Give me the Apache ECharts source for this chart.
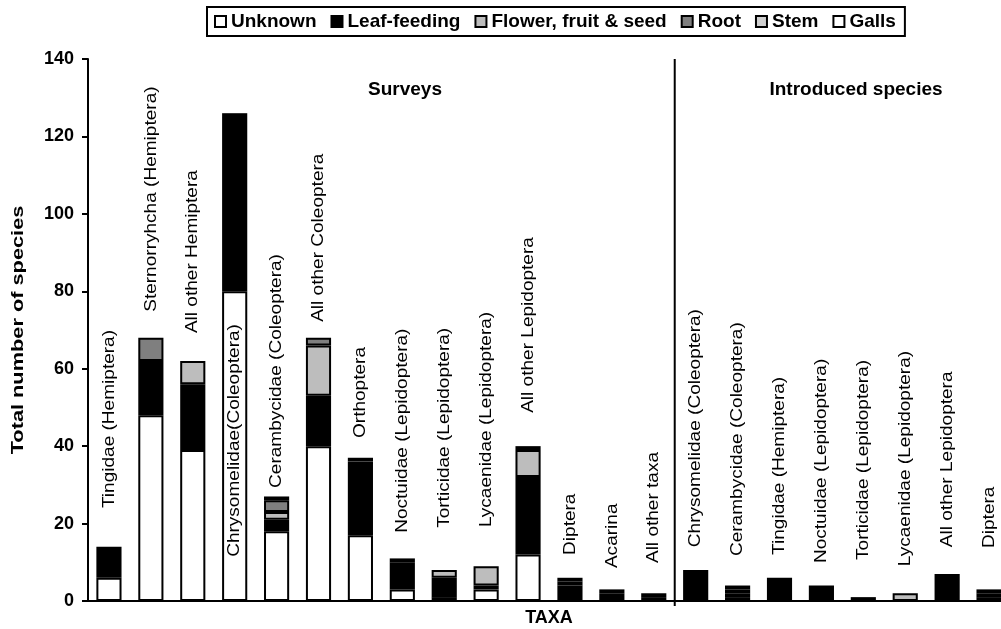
<!DOCTYPE html>
<html>
<head>
<meta charset="utf-8">
<script src="https://cdn.jsdelivr.net/npm/echarts@6/dist/echarts.min.js"></script>
<style>
  html, body { margin: 0; padding: 0; background: #fff; }
  #chart { width: 1001px; height: 629px; }
</style>
</head>
<body>
<div id="chart"></div>
<script>
// Taxa: 14 survey groups followed by 8 introduced-species groups
const taxa = [
  'Tingidae (Hemiptera)', 'Sternorryhcha (Hemiptera)', 'All other Hemiptera',
  'Chrysomelidae(Coleoptera)', 'Cerambycidae (Coleoptera)', 'All other Coleoptera',
  'Orthoptera', 'Noctuidae (Lepidoptera)', 'Torticidae (Lepidoptera)',
  'Lycaenidae (Lepidoptera)', 'All other Lepidoptera', 'Diptera', 'Acarina',
  'All other taxa',
  'Chrysomelidae (Coleoptera)', 'Cerambycidae (Coleoptera)', 'Tingidae (Hemiptera)',
  'Noctuidae (Lepidoptera)', 'Torticidae (Lepidoptera)', 'Lycaenidae (Lepidoptera)',
  'All other Lepidoptera', 'Diptera'
];

// Number of species by feeding guild
const unknown         = [6, 48, 39, 80, 18, 40, 17, 3, 1, 3, 12, 0, 0, 0,   0, 0, 0, 0, 0, 0, 0, 0];
const leafFeeding     = [8, 14, 17, 45, 3, 13, 19, 7, 5, 1, 20, 4, 2, 1,    8, 0, 6, 4, 1, 0, 7, 0];
const flowerFruitSeed = [0, 0, 6, 1, 2, 13, 1, 1, 2, 5, 7, 1, 1, 0,        0, 1, 0, 0, 0, 2, 0, 1];
const root            = [0, 6, 0, 0, 3, 2, 0, 0, 0, 0, 1, 1, 0, 1,         0, 1, 0, 0, 0, 0, 0, 1];
const stem            = [0, 0, 0, 0, 1, 0, 0, 0, 0, 0, 0, 0, 0, 0,         0, 1, 0, 0, 0, 0, 0, 1];
const galls           = [0, 0, 0, 0, 0, 0, 0, 0, 0, 0, 0, 0, 0, 0,         0, 1, 0, 0, 0, 0, 0, 0];

const guildNames = ['Unknown', 'Leaf-feeding', 'Flower, fruit & seed', 'Root', 'Stem', 'Galls'];
const guildValues = [unknown, leafFeeding, flowerFruitSeed, root, stem, galls];
const guildColors = ['#ffffff', '#000000', '#bdbdbd', '#7f7f7f', '#cfcfcf', '#ffffff'];

// Y axis scale
const yMin = 0, yMax = 140, yStep = 20;

// Level (axis units) at which each rotated taxon label starts
const labelBase = [24, 74.7, 69.2, 11.4, 29.2, 72.1, 42.1, 17.6, 18.9, 19.1, 48.6, 11.9, 8.5, 9.8,
                   13.9, 11.6, 11.9, 9.8, 10.6, 9.0, 13.9, 13.7];

// First index of the introduced-species block
const introducedStart = 14;

const chart = echarts.init(document.getElementById('chart'), null, { renderer: 'canvas' });

const barSeries = guildNames.map((name, g) => ({
  name: name,
  type: 'bar',
  stack: 'guild',
  barWidth: '60%',
  data: guildValues[g].map(v => (v === 0 ? null : v)),
  itemStyle: { color: guildColors[g], borderColor: '#000', borderWidth: 2 },
  emphasis: { disabled: true },
  z: 2
}));

const labelSeries = {
  type: 'custom',
  name: 'taxonLabels',
  coordinateSystem: 'cartesian2d',
  data: taxa.map((t, i) => [i, labelBase[i]]),
  encode: { x: 0, y: 1 },
  z: 5,
  silent: true,
  renderItem: function (params, api) {
    const i = api.value(0);
    const p = api.coord([i, api.value(1)]);
    return {
      type: 'text',
      x: p[0],
      y: p[1],
      rotation: Math.PI / 2,
      scaleX: 1.12,
      style: {
        text: taxa[i],
        fill: '#000',
        font: '17px "Liberation Sans", Arial, sans-serif',
        align: 'left',
        verticalAlign: 'middle'
      }
    };
  }
};

const option = {
  animation: false,
  backgroundColor: '#fff',
  textStyle: { fontFamily: '"Liberation Sans", Arial, sans-serif', color: '#000' },
  legend: {
    data: guildNames,
    left: 207,
    top: 7,
    padding: [5, 9, 5, 7],
    borderColor: '#000',
    borderWidth: 2,
    itemWidth: 11,
    itemHeight: 11,
    itemGap: 14,
    icon: 'rect',
    textStyle: { fontSize: 19, fontWeight: 'bold', color: '#000' },
    selectedMode: false
  },
  grid: { left: 88, right: -9, top: 59, bottom: 28, containLabel: false, outerBoundsMode: 'none' },
  xAxis: {
    type: 'category',
    data: taxa,
    name: 'TAXA',
    nameLocation: 'middle',
    nameGap: 8,
    nameTextStyle: { fontSize: 18, fontWeight: 'bold', color: '#000' },
    axisLine: { lineStyle: { color: '#000', width: 2 } },
    axisTick: { show: false },
    axisLabel: { show: false },
    splitLine: { show: false }
  },
  yAxis: {
    type: 'value',
    min: yMin,
    max: yMax,
    interval: yStep,
    axisLine: { show: true, lineStyle: { color: '#000', width: 2 } },
    axisTick: { show: true, length: 6, lineStyle: { color: '#000', width: 2 } },
    axisLabel: { fontSize: 18, fontWeight: 'bold', color: '#000', margin: 14 },
    splitLine: { show: false }
  },
  series: barSeries.concat([labelSeries])
};

chart.setOption(option);

// Divider between survey taxa and introduced species, plus group headings
function drawOverlay() {
  const a = chart.convertToPixel({ gridIndex: 0 }, [introducedStart - 1, yMax]);
  const b = chart.convertToPixel({ gridIndex: 0 }, [introducedStart, yMin]);
  const xDiv = (a[0] + b[0]) / 2;
  chart.setOption({
    graphic: [
      {
        type: 'line',
        shape: { x1: xDiv, y1: a[1], x2: xDiv, y2: b[1] + 5 },
        style: { stroke: '#000', lineWidth: 2 },
        z: 10
      },
      {
        type: 'text',
        x: 405, y: 90,
        style: { text: 'Surveys', font: 'bold 19px "Liberation Sans", Arial, sans-serif', fill: '#000', align: 'center', verticalAlign: 'middle' },
        z: 10
      },
      {
        type: 'text',
        x: 856, y: 90,
        style: { text: 'Introduced species', font: 'bold 19px "Liberation Sans", Arial, sans-serif', fill: '#000', align: 'center', verticalAlign: 'middle' },
        z: 10
      },
      {
        type: 'text',
        x: 18, y: 330,
        rotation: Math.PI / 2,
        scaleX: 1.28,
        style: { text: 'Total number of species', font: 'bold 17px "Liberation Sans", Arial, sans-serif', fill: '#000', align: 'center', verticalAlign: 'middle' },
        z: 10
      }
    ]
  });
}
drawOverlay();
</script>
</body>
</html>
